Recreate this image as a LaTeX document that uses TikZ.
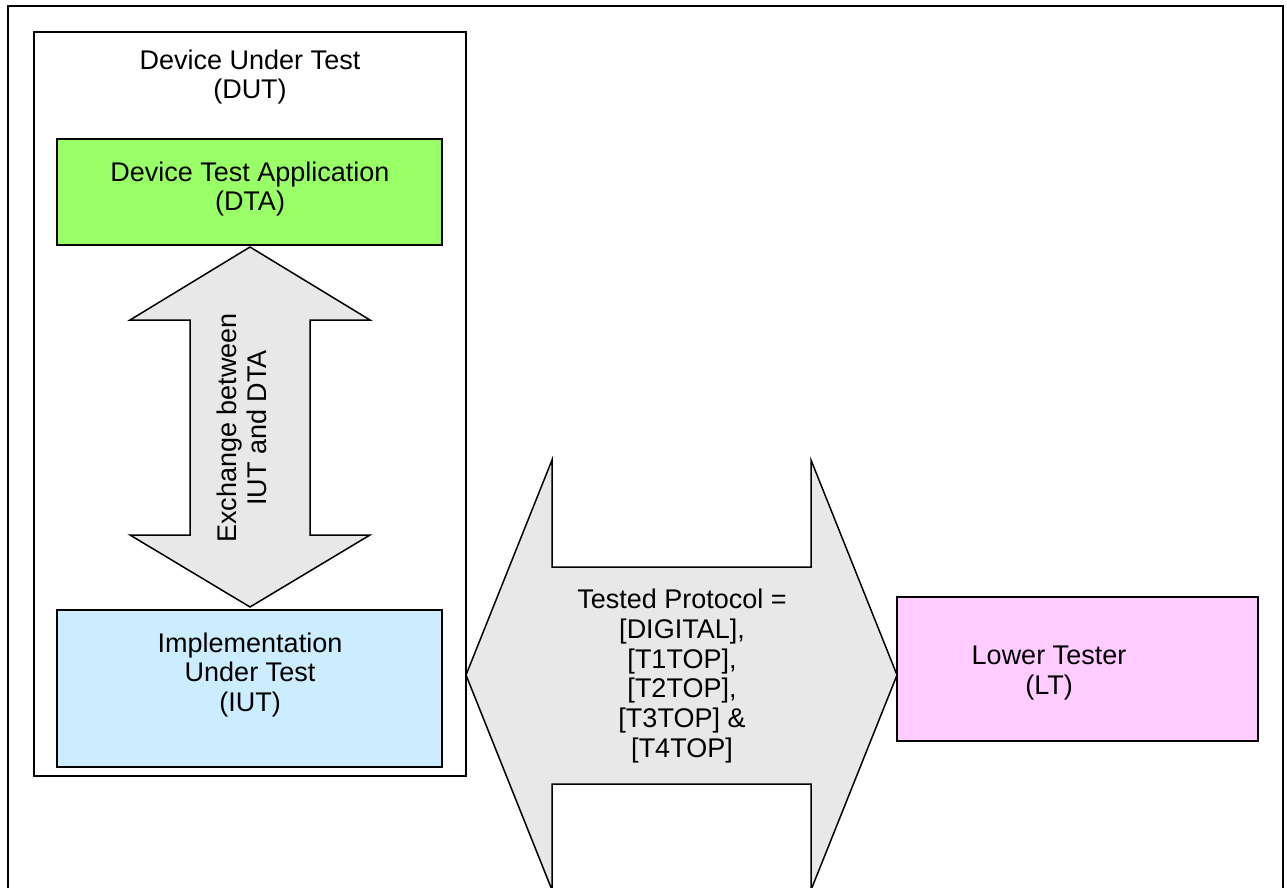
\documentclass[tikz,border=0pt]{standalone}
\usepackage{fontspec}
\setmainfont{Liberation Sans}
\begin{document}
\begin{tikzpicture}[x=1pt,y=-1pt,
  box/.style={draw=black,line width=1.6pt,inner sep=0pt},
  lbl/.style={align=center,font=\fontsize{27}{29.8}\selectfont,inner sep=0pt},
  arrowshape/.style={draw=black,line width=1.5pt,fill=gray!18,line join=miter}]
\definecolor{dtagreen}{HTML}{99FF66}
\definecolor{iutblue}{HTML}{CCECFF}
\definecolor{ltpink}{HTML}{FFCCFF}
\useasboundingbox (0,0) rectangle (1287,888);
% outer frame (bottom edge off the picture)
\draw[line width=2pt] (8,900) -- (8,6) -- (1283,6) -- (1283,900);
% DUT box
\draw[box,fill=white] (34,32) rectangle (466,776);
\node[lbl] (dut) at (250,77) {Device Under Test\\(DUT)};
% DTA box
\draw[box,fill=dtagreen] (57,139) rectangle (442,245);
\node[lbl] (dta) at (250,189) {Device Test Application\\(DTA)};
% IUT box
\draw[box,fill=iutblue] (57,610) rectangle (442,767);
\node[lbl] (iut) at (250,675) {Implementation\\Under Test\\(IUT)};
% LT box
\draw[box,fill=ltpink] (897,597) rectangle (1258,741);
\node[lbl] (lt) at (1049,673) {Lower Tester\\(LT)};
% vertical double arrow
\draw[arrowshape] (250,247) -- (370,320) -- (310,320) -- (310,535) -- (370,535)
  -- (250,607) -- (130,535) -- (190,535) -- (190,320) -- (130,320) -- cycle;
\node[lbl,rotate=90] (xchg) at (242,428) {Exchange between\\IUT and DTA};
% big horizontal double arrow
\draw[arrowshape] (466,675) -- (552,460) -- (552,567) -- (811,567) -- (811,460)
  -- (897,675) -- (811,890) -- (811,784) -- (552,784) -- (552,890) -- cycle;
\node[lbl] (proto) at (682,676) {Tested Protocol =\\{[DIGITAL],}\\{[T1TOP],}\\{[T2TOP],}\\{[T3TOP] \&}\\{[T4TOP]}};
\end{tikzpicture}
\end{document}
